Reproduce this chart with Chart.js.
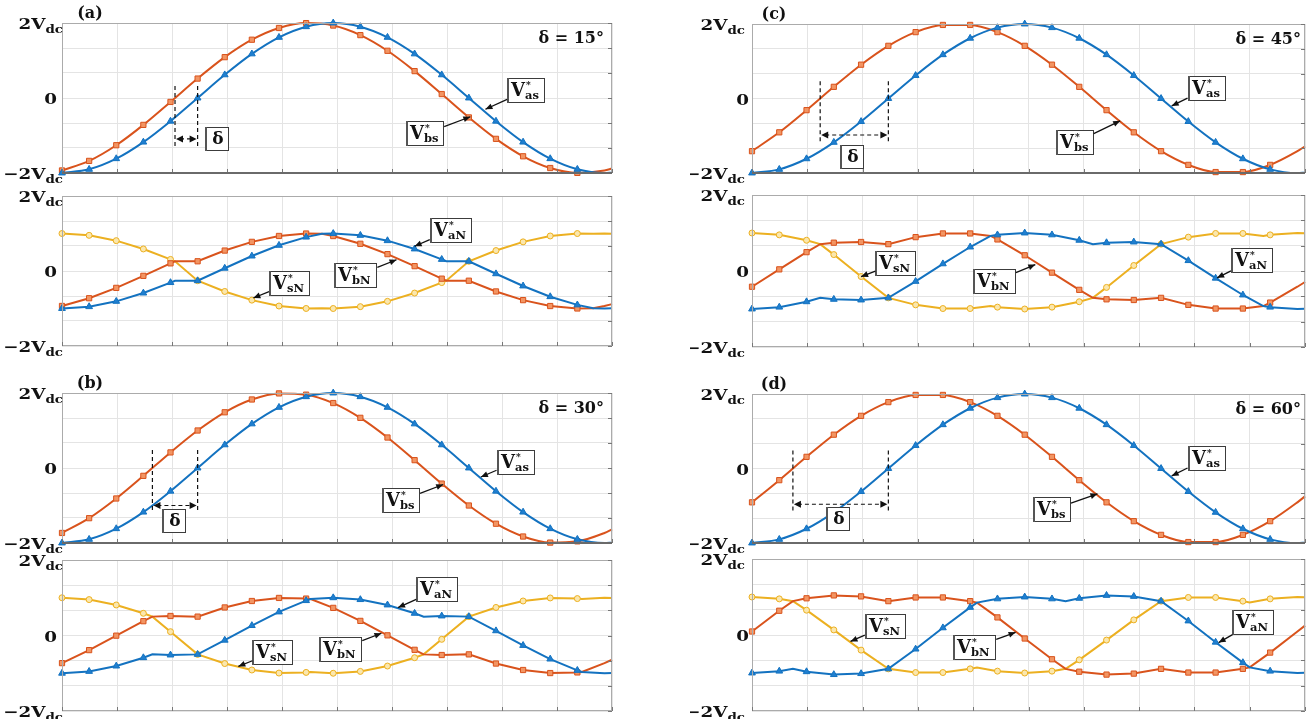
<!DOCTYPE html>
<html>
<head>
<meta charset="utf-8">
<script src="https://cdn.jsdelivr.net/npm/chart.js@4.4.1/dist/chart.umd.min.js"></script>
<style>
  html, body { margin: 0; padding: 0; background: #fff; }
  #fig { position: relative; width: 1315px; height: 719px; overflow: hidden; background: #fff; }
  #fig canvas { position: absolute; }
</style>
</head>
<body>
<div id="fig"></div>
<script>
// ---------------- phase grids (electrical degrees) ----------------
const PHASE_TOP = [0,18,36,54,72,90,108,126,144,162,180,198,216,234,252,270,288,306,324,342,360,365];
const MARKER_PHASES = [0,18,36,54,72,90,108,126,144,162,180,198,216,234,252,270,288,306,324,342];
const X_GRID = [0,36.5,73,109.5,146,182.5,219,255.5,292,328.5,365];
const Y_GRID = [-2,-1.3333,-0.6667,0,0.6667,1.3333,2];

// ---------------- reference voltages V*as / V*bs (units of Vdc) ----------------
const VAS_TOP = [-2,-1.902,-1.618,-1.176,-0.618,0,0.618,1.176,1.618,1.902,2,1.902,1.618,1.176,0.618,0,-0.618,-1.176,-1.618,-1.902,-2,-1.992];
const VBS_A = [-1.932,-1.677,-1.259,-0.717,-0.105,0.518,1.089,1.554,1.867,1.997,1.932,1.677,1.259,0.717,0.105,-0.518,-1.089,-1.554,-1.867,-1.997,-1.932,-1.879];
const VBS_B = [-1.732,-1.338,-0.813,-0.209,0.416,1.0,1.486,1.827,1.989,1.956,1.732,1.338,0.813,0.209,-0.416,-1.0,-1.486,-1.827,-1.989,-1.956,-1.732,-1.638];
const VBS_C = [-1.414,-0.908,-0.313,0.313,0.908,1.414,1.782,1.975,1.975,1.782,1.414,0.908,0.313,-0.313,-0.908,-1.414,-1.782,-1.975,-1.975,-1.782,-1.414,-1.286];
const VBS_D = [-0.908,-0.313,0.313,0.908,1.414,1.782,1.975,1.975,1.782,1.414,0.908,0.313,-0.313,-0.908,-1.414,-1.782,-1.975,-1.975,-1.782,-1.414,-0.908,-0.749];

// ---------------- pole voltages V*aN / V*bN / V*sN (units of Vdc) ----------------
const PHASE_A = [0,18,36,54,72,75,90,108,126,144,162,172.5,180,198,216,234,252,255,270,288,306,324,342,352.5,360,365];
const VAN_A = [-1,-0.951,-0.809,-0.588,-0.309,-0.259,-0.259,0.074,0.399,0.685,0.904,0.991,1,0.951,0.809,0.588,0.309,0.259,0.259,-0.074,-0.399,-0.685,-0.904,-0.991,-1,-0.996];
const VBN_A = [-0.932,-0.726,-0.450,-0.129,0.204,0.259,0.259,0.545,0.777,0.934,0.999,0.991,0.932,0.726,0.450,0.129,-0.204,-0.259,-0.259,-0.545,-0.777,-0.934,-0.999,-0.991,-0.932,-0.883];
const VSN_A = [1,0.951,0.809,0.588,0.309,0.259,-0.259,-0.545,-0.777,-0.934,-0.999,-0.991,-1,-0.951,-0.809,-0.588,-0.309,-0.259,0.259,0.545,0.777,0.934,0.999,0.991,1,0.996];

const PHASE_B = [0,18,36,54,60,72,90,108,126,144,162,165,180,198,216,234,240,252,270,288,306,324,342,345,360,365];
const VAN_B = [-1,-0.951,-0.809,-0.588,-0.5,-0.517,-0.5,-0.125,0.263,0.624,0.924,0.966,1,0.951,0.809,0.588,0.5,0.517,0.5,0.125,-0.263,-0.624,-0.924,-0.966,-1,-0.996];
const VBN_B = [-0.732,-0.387,-0.004,0.379,0.5,0.517,0.5,0.743,0.914,0.995,0.978,0.966,0.732,0.387,0.004,-0.379,-0.5,-0.517,-0.5,-0.743,-0.914,-0.995,-0.978,-0.966,-0.732,-0.642];
const VSN_B = [1,0.951,0.809,0.588,0.5,0.101,-0.5,-0.743,-0.914,-0.995,-0.978,-0.966,-1,-0.951,-0.809,-0.588,-0.5,-0.101,0.5,0.743,0.914,0.995,0.978,0.966,1,0.996];

const PHASE_C = [0,18,36,45,54,72,90,108,126,144,157.5,162,180,198,216,225,234,252,270,288,306,324,337.5,342,360,365];
const VAN_C = [-1,-0.951,-0.809,-0.707,-0.745,-0.763,-0.707,-0.273,0.189,0.631,0.924,0.951,1,0.951,0.809,0.707,0.745,0.763,0.707,0.273,-0.189,-0.631,-0.924,-0.951,-1,-0.996];
const VBN_C = [-0.414,0.043,0.496,0.707,0.745,0.763,0.707,0.891,0.988,0.988,0.924,0.831,0.414,-0.043,-0.496,-0.707,-0.745,-0.763,-0.707,-0.891,-0.988,-0.988,-0.924,-0.831,-0.414,-0.290];
const VSN_C = [1,0.951,0.809,0.707,0.432,-0.145,-0.707,-0.891,-0.988,-0.988,-0.924,-0.951,-1,-0.951,-0.809,-0.707,-0.432,0.145,0.707,0.891,0.988,0.988,0.924,0.951,1,0.996];

const PHASE_D = [0,18,27,36,54,72,90,108,126,144,148.5,162,180,198,207,216,234,252,270,288,306,324,328.5,342,360,365];
const VAN_D = [-1,-0.951,-0.891,-0.966,-1.042,-1.016,-0.891,-0.370,0.189,0.727,0.853,0.951,1,0.951,0.891,0.966,1.042,1.016,0.891,0.370,-0.189,-0.727,-0.853,-0.951,-1,-0.996];
const VBN_D = [0.092,0.638,0.891,0.966,1.042,1.016,0.891,0.988,0.988,0.891,0.853,0.463,-0.092,-0.638,-0.891,-0.966,-1.042,-1.016,-0.891,-0.988,-0.988,-0.891,-0.853,-0.463,0.092,0.247];
const VSN_D = [1,0.951,0.891,0.653,0.134,-0.398,-0.891,-0.988,-0.988,-0.891,-0.853,-0.951,-1,-0.951,-0.891,-0.653,-0.134,0.398,0.891,0.988,0.988,0.891,0.853,0.951,1,0.996];

// ---------------- styling ----------------
const SERIF = '"DejaVu Serif", "Liberation Serif", serif';
const GRID = '#e4e4e4';
const LOOK = {
  a: { line: '#1372c0', fill: '#1f7fd0', shape: 'triangle', r: 3.9 },
  b: { line: '#d9531c', fill: '#f29563', shape: 'rect', r: 3.7 },
  s: { line: '#ecb021', fill: '#fbe7ad', shape: 'circle', r: 3.0 }
};

function curve(label, phases, values, look, smooth) {
  return {
    label,
    data: phases.map((p, i) => ({ x: p, y: values[i] })),
    borderColor: look.line,
    backgroundColor: look.fill,
    borderWidth: 2,
    pointStyle: look.shape,
    pointRadius: c => (c.raw && MARKER_PHASES.includes(c.raw.x)) ? look.r : 0,
    pointBorderColor: look.line,
    pointBackgroundColor: look.fill,
    pointBorderWidth: 1,
    pointHoverRadius: 0,
    cubicInterpolationMode: smooth ? 'monotone' : 'default',
    tension: 0,
    clip: 8
  };
}

// ---------------- drawing helpers for labels / callouts ----------------
function arrowHead(ctx, x, y, ang, len, half) {
  const c = Math.cos(ang), s = Math.sin(ang);
  ctx.beginPath();
  ctx.moveTo(x, y);
  ctx.lineTo(x - len * c + half * s, y - len * s - half * c);
  ctx.lineTo(x - len * c - half * s, y - len * s + half * c);
  ctx.closePath();
  ctx.fill();
}

// axis label with a subscript, drawn slightly widened
function yLabel(ctx, xr, y, big, small) {
  const fBig = `bold 15px ${SERIF}`, fSmall = `bold 11px ${SERIF}`, stretch = 1.22;
  ctx.font = fBig; const w1 = ctx.measureText(big).width;
  ctx.font = fSmall; const w2 = small ? ctx.measureText(small).width : 0;
  ctx.save();
  ctx.translate(xr - (w1 + w2) * stretch, y);
  ctx.scale(stretch, 1);
  ctx.textAlign = 'left'; ctx.textBaseline = 'alphabetic'; ctx.fillStyle = '#111';
  ctx.font = fBig; ctx.fillText(big, 0, 6);
  if (small) { ctx.font = fSmall; ctx.fillText(small, w1, 9.5); }
  ctx.restore();
}

function noteBox(ctx, cx, cy, sub) {
  const fV = `bold 18px ${SERIF}`, fS = `bold 11.5px ${SERIF}`, fStar = `bold 9px ${SERIF}`;
  ctx.font = fV; const wV = ctx.measureText('V').width;
  ctx.font = fS; const wS = ctx.measureText(sub).width;
  const w = Math.round(wV + wS + 10), h = 25;
  const x0 = Math.round(cx - w / 2), y0 = Math.round(cy - h / 2);
  ctx.fillStyle = '#fff'; ctx.fillRect(x0, y0, w, h);
  ctx.strokeStyle = '#3c3c3c'; ctx.lineWidth = 1; ctx.setLineDash([]);
  ctx.strokeRect(x0 + 0.5, y0 + 0.5, w - 1, h - 1);
  ctx.fillStyle = '#555'; ctx.fillRect(x0, y0, 2, h);
  ctx.fillStyle = '#111'; ctx.textAlign = 'left'; ctx.textBaseline = 'alphabetic';
  ctx.font = fV; ctx.fillText('V', x0 + 4, y0 + 18);
  ctx.font = fStar; ctx.fillText('*', x0 + 4 + wV + 1, y0 + 10);
  ctx.font = fS; ctx.fillText(sub, x0 + 4 + wV, y0 + 21);
  return { hw: w / 2, hh: h / 2 };
}

function deltaBox(ctx, cx, cy) {
  const w = 24, h = 24;
  const x0 = Math.round(cx - w / 2), y0 = Math.round(cy - h / 2);
  ctx.fillStyle = '#fff'; ctx.fillRect(x0, y0, w, h);
  ctx.strokeStyle = '#3c3c3c'; ctx.lineWidth = 1; ctx.setLineDash([]);
  ctx.strokeRect(x0 + 0.5, y0 + 0.5, w - 1, h - 1);
  ctx.fillStyle = '#555'; ctx.fillRect(x0, y0, 2, h);
  ctx.fillStyle = '#111'; ctx.font = `bold 17px ${SERIF}`;
  ctx.textAlign = 'center'; ctx.textBaseline = 'middle';
  ctx.fillText('δ', x0 + w / 2 + 1, y0 + h / 2 + 1);
}

const figureNotes = {
  id: 'figureNotes',
  afterDraw(chart, args, o) {
    const { ctx, chartArea: ca } = chart;
    const X = chart.scales.x, Y = chart.scales.y;
    ctx.save();
    ctx.setLineDash([]);

    // plot frame and inner edge ticks
    ctx.strokeStyle = '#ababab'; ctx.lineWidth = 1;
    ctx.strokeRect(ca.left + 0.5, ca.top + 0.5, ca.width - 1, ca.height - 1);
    ctx.strokeStyle = '#777';
    ctx.beginPath();
    X.ticks.forEach(t => { const px = Math.round(X.getPixelForValue(t.value)) + 0.5; ctx.moveTo(px, ca.bottom); ctx.lineTo(px, ca.bottom - 4); });
    Y.ticks.forEach(t => { const py = Math.round(Y.getPixelForValue(t.value)) + 0.5; ctx.moveTo(ca.right, py); ctx.lineTo(ca.right - 4, py); });
    ctx.stroke();
    if (o.darkBase) {
      ctx.strokeStyle = '#6a6a6a'; ctx.lineWidth = 2;
      ctx.beginPath(); ctx.moveTo(ca.left, ca.bottom); ctx.lineTo(ca.right, ca.bottom); ctx.stroke();
    }

    // y-axis labels (positions given relative to the chart area's left edge)
    yLabel(ctx, ca.left + o.vDx, Y.getPixelForValue(2), '2V', 'dc');
    yLabel(ctx, ca.left + o.zeroDx, Y.getPixelForValue(0), '0', '');
    yLabel(ctx, ca.left + o.vDx, Y.getPixelForValue(-2), '\u22122V', 'dc');

    // panel tag and phase-shift caption
    ctx.fillStyle = '#111'; ctx.textBaseline = 'middle';
    if (o.tag) {
      ctx.font = `bold 16px ${SERIF}`; ctx.textAlign = 'center';
      ctx.fillText(o.tag, ca.left + o.tagDx, ca.top - 9);
    }
    if (o.caption) {
      ctx.font = `bold 16px ${SERIF}`; ctx.textAlign = 'right';
      ctx.fillText(o.caption, ca.right - o.capDx, ca.top + 16);
    }

    // phase-shift dimension (dashed guides + double arrow)
    if (o.delta) {
      const d = o.delta;
      const x1 = X.getPixelForValue(d.p1), x2 = X.getPixelForValue(d.p2);
      const yt = Y.getPixelForValue(d.vTop), yb = Y.getPixelForValue(d.vBot), ya = Y.getPixelForValue(d.vArrow);
      ctx.strokeStyle = '#111'; ctx.lineWidth = 1.2; ctx.setLineDash([4, 3]);
      ctx.beginPath();
      ctx.moveTo(x1, yt); ctx.lineTo(x1, yb);
      ctx.moveTo(x2, yt); ctx.lineTo(x2, yb);
      ctx.moveTo(x1 + 5, ya); ctx.lineTo(x2 - 5, ya);
      ctx.stroke();
      ctx.setLineDash([]);
      ctx.fillStyle = '#111';
      arrowHead(ctx, x1 + 1, ya, Math.PI, 7, 3.5);
      arrowHead(ctx, x2 - 1, ya, 0, 7, 3.5);
      deltaBox(ctx, X.getPixelForValue(d.box[0]), Y.getPixelForValue(d.box[1]));
    }

    // signal callouts with leader arrows
    (o.notes || []).forEach(n => {
      const cx = X.getPixelForValue(n.box[0]), cy = Y.getPixelForValue(n.box[1]);
      const tx = X.getPixelForValue(n.to[0]), ty = Y.getPixelForValue(n.to[1]);
      const sz = noteBox(ctx, cx, cy, n.sub);
      const dx = tx - cx, dy = ty - cy;
      const k = Math.min(sz.hw / Math.abs(dx || 1e-6), sz.hh / Math.abs(dy || 1e-6));
      const sx = cx + dx * k, sy = cy + dy * k;
      ctx.strokeStyle = '#111'; ctx.lineWidth = 1.3; ctx.setLineDash([]);
      ctx.beginPath(); ctx.moveTo(sx, sy); ctx.lineTo(tx, ty); ctx.stroke();
      ctx.fillStyle = '#111';
      arrowHead(ctx, tx, ty, Math.atan2(ty - sy, tx - sx), 7, 3);
    });
    ctx.restore();
  }
};

// ---------------- layout of the eight sub-plots ----------------
const COLS = {
  L: { x: 0, w: 625, plotL: 62, plotR: 612, vDx: 1, zeroDx: -5, tagDx: 28, capDx: 8 },
  R: { x: 690, w: 625, plotL: 752, plotR: 1305, vDx: -7, zeroDx: -3, tagDx: 22, capDx: 4 }
};

const PLOTS = [
  { col: 'L', top: 0, h: 186, plotT: 23, plotB: 173, darkBase: true, tag: '(a)', caption: 'δ = 15°',
    series: [['V*as', PHASE_TOP, VAS_TOP, 'a'], ['V*bs', PHASE_TOP, VBS_A, 'b']], smooth: true,
    delta: { p1: 75, p2: 90, vTop: 0.32, vBot: -1.31, vArrow: -1.09, box: [103, -1.09] },
    notes: [{ sub: 'as', box: [308, 0.19], to: [281, -0.3] }, { sub: 'bs', box: [241, -0.95], to: [271, -0.5] }] },
  { col: 'L', top: 184, h: 178, plotT: 196, plotB: 346,
    series: [['V*aN', PHASE_A, VAN_A, 'a'], ['V*bN', PHASE_A, VBN_A, 'b'], ['V*sN', PHASE_A, VSN_A, 's']],
    notes: [{ sub: 'aN', box: [258, 1.08], to: [234, 0.66] }, { sub: 'sN', box: [151, -0.33], to: [127, -0.72] }, { sub: 'bN', box: [195, -0.13], to: [222, 0.3] }] },
  { col: 'L', top: 370, h: 185, plotT: 393, plotB: 543, darkBase: true, tag: '(b)', caption: 'δ = 30°',
    series: [['V*as', PHASE_TOP, VAS_TOP, 'a'], ['V*bs', PHASE_TOP, VBS_B, 'b']], smooth: true,
    delta: { p1: 60, p2: 90, vTop: 0.48, vBot: -1.17, vArrow: -1.0, box: [74, -1.41] },
    notes: [{ sub: 'as', box: [301, 0.16], to: [278, -0.24] }, { sub: 'bs', box: [225, -0.87], to: [253, -0.44] }] },
  { col: 'L', top: 550, h: 169, plotT: 560, plotB: 711,
    series: [['V*aN', PHASE_B, VAN_B, 'a'], ['V*bN', PHASE_B, VBN_B, 'b'], ['V*sN', PHASE_B, VSN_B, 's']],
    notes: [{ sub: 'aN', box: [249, 1.21], to: [223, 0.74] }, { sub: 'sN', box: [140, -0.45], to: [117, -0.82] }, { sub: 'bN', box: [185, -0.36], to: [212, 0.06] }] },
  { col: 'R', top: 0, h: 186, plotT: 24, plotB: 173, darkBase: true, tag: '(c)', caption: 'δ = 45°',
    series: [['V*as', PHASE_TOP, VAS_TOP, 'a'], ['V*bs', PHASE_TOP, VBS_C, 'b']], smooth: true,
    delta: { p1: 45, p2: 90, vTop: 0.46, vBot: -1.18, vArrow: -0.98, box: [66, -1.57] },
    notes: [{ sub: 'as', box: [300, 0.26], to: [277, -0.2] }, { sub: 'bs', box: [213, -1.19], to: [243, -0.6] }] },
  { col: 'R', top: 184, h: 178, plotT: 195, plotB: 347,
    series: [['V*aN', PHASE_C, VAN_C, 'a'], ['V*bN', PHASE_C, VBN_C, 'b'], ['V*sN', PHASE_C, VSN_C, 's']],
    notes: [{ sub: 'sN', box: [95, 0.21], to: [72, -0.15] }, { sub: 'bN', box: [160, -0.28], to: [187, 0.17] }, { sub: 'aN', box: [330, 0.28], to: [307, -0.18] }] },
  { col: 'R', top: 370, h: 185, plotT: 394, plotB: 543, darkBase: true, tag: '(d)', caption: 'δ = 60°',
    series: [['V*as', PHASE_TOP, VAS_TOP, 'a'], ['V*bs', PHASE_TOP, VBS_D, 'b']], smooth: true,
    delta: { p1: 27, p2: 90, vTop: 0.48, vBot: -1.2, vArrow: -0.96, box: [57, -1.35] },
    notes: [{ sub: 'as', box: [300, 0.27], to: [277, -0.2] }, { sub: 'bs', box: [198, -1.11], to: [228, -0.68] }] },
  { col: 'R', top: 550, h: 169, plotT: 559, plotB: 711,
    series: [['V*aN', PHASE_D, VAN_D, 'a'], ['V*bN', PHASE_D, VBN_D, 'b'], ['V*sN', PHASE_D, VSN_D, 's']],
    notes: [{ sub: 'sN', box: [88, 0.23], to: [65, -0.17] }, { sub: 'bN', box: [147, -0.32], to: [174, 0.07] }, { sub: 'aN', box: [331, 0.33], to: [308, -0.2] }] }
];

const fig = document.getElementById('fig');
PLOTS.forEach(p => {
  const c = COLS[p.col];
  const cv = document.createElement('canvas');
  cv.width = c.w; cv.height = p.h;
  cv.style.left = c.x + 'px'; cv.style.top = p.top + 'px';
  cv.style.width = c.w + 'px'; cv.style.height = p.h + 'px';
  fig.appendChild(cv);

  new Chart(cv, {
    type: 'line',
    data: { datasets: p.series.map(s => curve(s[0], s[1], s[2], LOOK[s[3]], !!p.smooth)) },
    plugins: [figureNotes],
    options: {
      responsive: false,
      animation: false,
      events: [],
      layout: { padding: { left: c.plotL - c.x, right: c.x + c.w - c.plotR, top: p.plotT - p.top, bottom: p.top + p.h - p.plotB } },
      plugins: {
        legend: { display: false },
        tooltip: { enabled: false },
        figureNotes: {
          vDx: c.vDx, zeroDx: c.zeroDx, tagDx: c.tagDx, capDx: c.capDx,
          darkBase: !!p.darkBase, tag: p.tag, caption: p.caption, delta: p.delta, notes: p.notes
        }
      },
      scales: {
        x: {
          type: 'linear', min: 0, max: 365,
          ticks: { display: false },
          grid: { color: GRID, lineWidth: 1, drawTicks: false },
          border: { display: false },
          afterBuildTicks: s => { s.ticks = X_GRID.map(v => ({ value: v })); }
        },
        y: {
          type: 'linear', min: -2, max: 2,
          ticks: { display: false },
          grid: { color: GRID, lineWidth: 1, drawTicks: false },
          border: { display: false },
          afterBuildTicks: s => { s.ticks = Y_GRID.map(v => ({ value: v })); }
        }
      }
    }
  });
});
</script>
</body>
</html>
